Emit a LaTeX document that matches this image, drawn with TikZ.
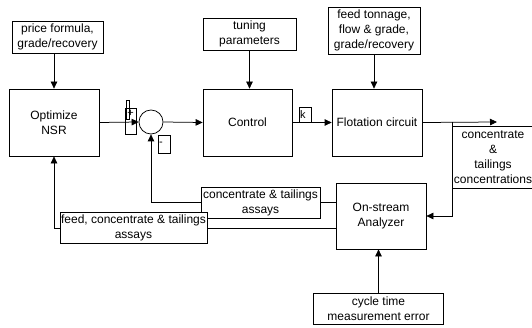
\documentclass[tikz,border=0pt]{standalone}
\usepackage{fontspec}
\setmainfont{Liberation Sans}
\usetikzlibrary{arrows.meta}
\begin{document}
\begin{tikzpicture}[x=1pt,y=1pt,line width=0.75pt,>={Triangle[length=7pt,width=6.5pt]},
    blk/.style={draw,fill=white,inner sep=0pt,align=center,font=\fontsize{12}{15}\selectfont},
    markbox/.style={draw,line width=0.6pt,inner sep=1pt,font=\fontsize{11}{12}\selectfont}]
  \useasboundingbox (0,0) rectangle (532,327);
  %blocchi
  \node[blk,minimum width=91pt,minimum height=32pt] (price) at (57.5,290) {price formula,\\grade/recovery};
  \node[blk,minimum width=90pt,minimum height=67pt] (opt) at (54,204.5) {Optimize\\NSR};
  \node[draw,circle,minimum size=24pt,inner sep=0pt] (sum) at (151,205) {};
  \node[blk,minimum width=93pt,minimum height=32pt] (tune) at (249.5,293) {tuning\\parameters};
  \node[blk,minimum width=89pt,minimum height=67pt] (ctrl) at (247.5,204.5) {Control};
  \node[blk,minimum width=92pt,minimum height=47pt] (feed) at (374,296.5) {feed tonnage,\\flow \& grade,\\grade/recovery};
  \node[blk,minimum width=90pt,minimum height=67pt] (flot) at (377,204.5) {Flotation circuit};
  \node[blk,minimum width=90pt,minimum height=66pt] (ana) at (381,111) {On-stream\\Analyzer};
  \node[blk,minimum width=130pt,minimum height=31pt] (cyc) at (378.5,18.5) {cycle time\\measurement error};
  %segni
  \node[markbox,minimum width=11pt,minimum height=26pt,label={[anchor=north,inner sep=2pt,font=\fontsize{11}{12}\selectfont]north:+}] (plus) at (130.5,206) {};
  \draw[line width=0.6pt] (126,227) rectangle (129,208);
  \node[markbox,minimum height=18pt,text width=10pt,align=left] (minus) at (164,183) {-};
  \node[markbox,minimum height=15pt,text width=10pt,align=left] (gain) at (305,212.5) {k};
  %collegamenti
  \coordinate (br) at (452,205);
  \coordinate (out) at (497,205);
  \draw[->] (price.south -| opt.north) -- (opt.north);
  \draw[->] (opt.east) -- (sum.west);
  \draw[->] (sum.east) -- (ctrl.west);
  \draw[->] (tune.south) -- (tune.south |- ctrl.north);
  \draw[->] (ctrl.east) -- (flot.west);
  \draw[->] (feed.south) -- (feed.south |- flot.north);
  \draw[->] (flot.east) -- (out);
  \draw[->] (br) |- (ana.east);
  \draw[->] (cyc.north) -- (cyc.north |- ana.south);
  \draw[->] ([yshift=14pt]ana.west) -| (sum.south);
  \draw[->] ([yshift=-12pt]ana.west) -| (opt.south);
  %etichette
  \node[blk,minimum width=82pt,minimum height=62pt] (conc) at (493,170) {concentrate\\\&\\tailings\\concentrations};
  \node[blk,minimum width=119pt,minimum height=31pt] (assay) at (260.5,124.5) {concentrate \& tailings\\assays};
  \node[blk,minimum width=147pt,minimum height=31pt] (fassay) at (133.5,99.5) {feed, concentrate \& tailings\\assays};
\end{tikzpicture}
\end{document}
